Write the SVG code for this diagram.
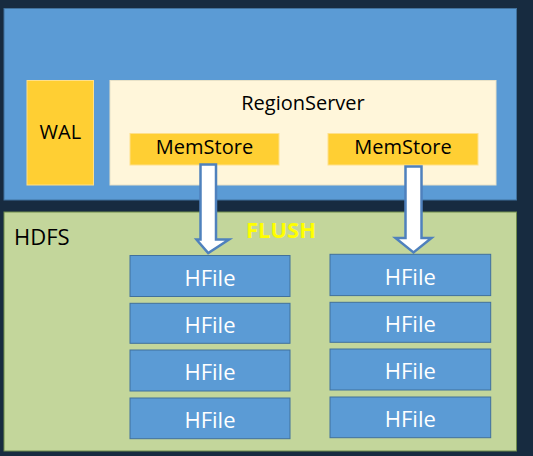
<svg xmlns="http://www.w3.org/2000/svg" width="533" height="456" viewBox="0 0 533 456">
<defs>
<style>
.t{font-family:"Open Sans","Noto Sans","Liberation Sans",sans-serif;}
.blk{fill:#000000;font-size:20px;}
.hf{fill:#5B9BD5;stroke:#41719C;stroke-width:1;}
.hft{fill:#FFFFFF;font-size:22px;text-anchor:middle;}
.ms{fill:#FFCF33;stroke:#FFE08A;stroke-width:1;}
.arr{fill:#FFFFFF;stroke:#4F81BD;stroke-width:2.5;stroke-linejoin:miter;}
</style>
</defs>
<rect x="0" y="0" width="533" height="456" fill="#172B40"/>
<g id="regionserver-host">
<rect x="4" y="8.5" width="512.5" height="191.5" fill="#5B9BD5" stroke="#41719C" stroke-width="1"/>
</g>
<g id="hdfs">
<rect x="4" y="212" width="512.5" height="239" fill="#C3D69B" stroke="#6E8B4D" stroke-width="1"/>
<text class="t" x="14" y="245" font-size="22" fill="#000000">HDFS</text>
</g>
<g id="wal">
<rect x="27" y="80.5" width="66.5" height="104.5" fill="#FFCF33" stroke="#FFE08A" stroke-width="1"/>
<text class="t blk" x="60.3" y="138.5" text-anchor="middle">WAL</text>
</g>
<g id="regionserver">
<rect x="110" y="80.5" width="386" height="104.5" fill="#FFF6DA" stroke="#E8E2C8" stroke-width="1"/>
<text class="t blk" x="303" y="110" text-anchor="middle">RegionServer</text>
</g>
<g id="memstore1">
<rect class="ms" x="130" y="133.5" width="149" height="31.5"/>
<text class="t blk" x="204.5" y="154" text-anchor="middle">MemStore</text>
</g>
<g id="memstore2">
<rect class="ms" x="328" y="133.5" width="150" height="31.5"/>
<text class="t blk" x="403" y="154" text-anchor="middle">MemStore</text>
</g>
<g id="connectors">
<polygon class="arr" points="200.5,164.5 216,164.5 216,239.5 229,239.5 208.2,253 196.5,239.5 200.5,239.5" transform="translate(0,0)"/>
<polygon class="arr" points="405.5,166.5 421.5,166.5 421.5,238 431.5,238 413.5,252.5 395.5,238 405.5,238"/>
</g>
<g id="flush-label">
<text class="t" x="281" y="238" font-size="22" font-weight="bold" fill="#FFFF00" text-anchor="middle">FLUSH</text>
</g>
<g id="hfile-l1"><rect class="hf" x="130" y="255.5" width="160" height="41"/><text class="t hft" x="210" y="285.5">HFile</text></g>
<g id="hfile-l2"><rect class="hf" x="130" y="303.3" width="160" height="40"/><text class="t hft" x="210" y="332.8">HFile</text></g>
<g id="hfile-l3"><rect class="hf" x="130" y="350" width="160" height="41"/><text class="t hft" x="210" y="380">HFile</text></g>
<g id="hfile-l4"><rect class="hf" x="130" y="398" width="160" height="40.7"/><text class="t hft" x="210" y="428">HFile</text></g>
<g id="hfile-r1"><rect class="hf" x="330" y="254.3" width="160.7" height="41.3"/><text class="t hft" x="410.3" y="284.5">HFile</text></g>
<g id="hfile-r2"><rect class="hf" x="330" y="302.3" width="160.7" height="40"/><text class="t hft" x="410.3" y="331.8">HFile</text></g>
<g id="hfile-r3"><rect class="hf" x="330" y="349" width="160.7" height="41"/><text class="t hft" x="410.3" y="379">HFile</text></g>
<g id="hfile-r4"><rect class="hf" x="330" y="397" width="160.7" height="40.7"/><text class="t hft" x="410.3" y="427">HFile</text></g>
</svg>
